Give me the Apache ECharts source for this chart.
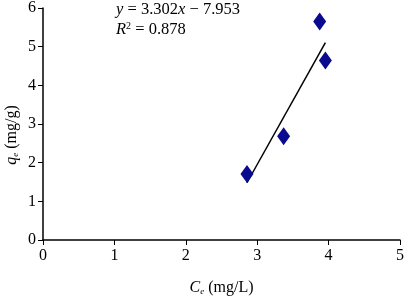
<!DOCTYPE html>
<html><head><meta charset="utf-8">
<script src="https://cdn.jsdelivr.net/npm/echarts@6/dist/echarts.min.js"></script>
<style>html,body{margin:0;padding:0;background:#fff}#c{width:405px;height:297px}</style>
</head><body><div id="c"></div>
<script>
const ceValues = [2.857, 3.37, 3.875, 3.955];
const qeValues = [1.71, 2.68, 5.65, 4.64];
const fitSlope = 3.302;
const fitIntercept = -7.953;
const fitRange = [2.857, 3.955];
const xTicks = [0, 1, 2, 3, 4, 5];
const yTicks = [0, 1, 2, 3, 4, 5, 6];

const font = 'Liberation Serif';
const fs = 16;
const chart = echarts.init(document.getElementById('c'), null, {renderer: 'canvas'});
chart.setOption({
  animation: false,
  backgroundColor: '#fff',
  grid: {left: 43, right: 5, top: 8, bottom: 57, outerBoundsMode: 'none', containLabel: false},
  xAxis: {
    type: 'value', min: xTicks[0], max: xTicks[xTicks.length-1], interval: 1,
    splitLine: {show: false},
    axisLine: {lineStyle: {color: '#000', width: 1.5}},
    axisTick: {show: true, length: 5, lineStyle: {color: '#000', width: 1}},
    axisLabel: {color: '#000', fontFamily: font, fontSize: fs, margin: 8},
    name: '{i|C}{s|e}{n| (mg/L)}', nameLocation: 'middle', nameGap: 39,
    nameTextStyle: {rich: {
      i: {fontFamily: font, fontStyle: 'italic', fontSize: fs, color: '#000'},
      s: {fontFamily: font, fontStyle: 'italic', fontSize: 9, color: '#000', verticalAlign: 'bottom', padding: [8,0,0,0]},
      n: {fontFamily: font, fontSize: fs, color: '#000'}
    }}
  },
  yAxis: {
    type: 'value', min: yTicks[0], max: yTicks[yTicks.length-1], interval: 1,
    splitLine: {show: false},
    axisLine: {show: true, lineStyle: {color: '#000', width: 1.5}},
    axisTick: {show: true, length: 5, lineStyle: {color: '#000', width: 1}},
    axisLabel: {color: '#000', fontFamily: font, fontSize: fs, margin: 7}
  },
  series: [
    {
      type: 'line', data: fitRange.map(x => [x, fitSlope * x + fitIntercept]),
      showSymbol: false, symbol: 'none', lineStyle: {color: '#000', width: 1.5}, z: 2
    },
    {
      type: 'scatter', data: ceValues.map((x, i) => [x, qeValues[i]]),
      symbol: 'diamond', symbolSize: [13, 18],
      itemStyle: {color: '#0a0a8f', opacity: 1}, z: 3
    }
  ],
  graphic: [
    {type: 'text', x: 12, y: 135, rotation: Math.PI / 2, style: {
      text: '{i|q}{s|e}{n| (mg/g)}', align: 'center', verticalAlign: 'middle',
      rich: {
        i: {fontFamily: font, fontStyle: 'italic', fontSize: fs, fill: '#000'},
        s: {fontFamily: font, fontStyle: 'italic', fontSize: 9, fill: '#000', verticalAlign: 'bottom', padding: [8,0,0,0]},
        n: {fontFamily: font, fontSize: fs, fill: '#000'}
      }}},
    {type: 'text', left: 116, top: 1, style: {
      text: '{i|y}{n| = 3.302}{i|x}{n| − 7.953}',
      rich: {
        i: {fontFamily: font, fontStyle: 'italic', fontSize: 16.5, fill: '#000'},
        n: {fontFamily: font, fontSize: 16.5, fill: '#000'}
      }}},
    {type: 'text', left: 116, top: 21, style: {
      text: '{i|R}{p|2}{n| = 0.878}',
      rich: {
        i: {fontFamily: font, fontStyle: 'italic', fontSize: 16.5, fill: '#000'},
        p: {fontFamily: font, fontSize: 10, fill: '#000', verticalAlign: 'top', padding: [0,0,6,0]},
        n: {fontFamily: font, fontSize: 16.5, fill: '#000'}
      }}}
  ]
});
</script></body></html>
